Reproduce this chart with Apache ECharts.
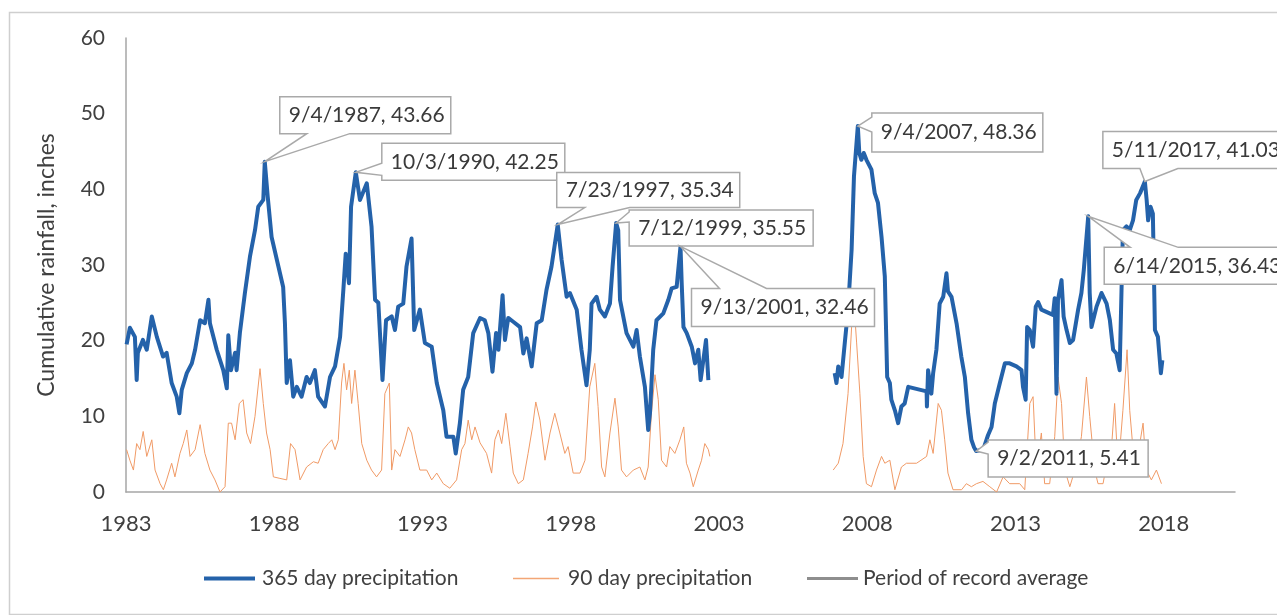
<!DOCTYPE html>
<html>
<head>
<meta charset="utf-8">
<script src="https://cdn.jsdelivr.net/npm/echarts@6/dist/echarts.min.js"></script>
<style>
html,body{margin:0;padding:0;background:#fff;}
#main{width:1277px;height:615px;}
</style>
</head>
<body>
<div id="main"></div>
<script>
// ---------- DATA ----------
const xTickLabels = ['1983','1988','1993','1998','2003','2008','2013','2018'];
const baseYear = 1983;

// 365-day cumulative precipitation (decimal year, inches); null = no record
const years365 = [1983.02,1983.13,1983.30,1983.36,1983.40,1983.57,1983.70,1983.87,1984.04,1984.25,1984.37,1984.54,1984.71,1984.80,1984.88,1985.05,1985.22,1985.33,1985.50,1985.66,1985.78,1985.83,1986.06,1986.28,1986.40,1986.45,1986.54,1986.68,1986.73,1986.84,1987.01,1987.18,1987.35,1987.46,1987.63,1987.68,1987.78,1987.91,1988.14,1988.30,1988.36,1988.42,1988.53,1988.64,1988.76,1988.92,1989.09,1989.20,1989.37,1989.48,1989.71,1989.88,1990.05,1990.22,1990.33,1990.41,1990.52,1990.59,1990.75,1990.89,1991.12,1991.28,1991.40,1991.51,1991.65,1991.77,1991.96,1992.07,1992.18,1992.35,1992.46,1992.63,1992.72,1992.91,1993.08,1993.31,1993.48,1993.70,1993.81,1994.04,1994.12,1994.26,1994.37,1994.54,1994.71,1994.94,1995.10,1995.22,1995.36,1995.48,1995.56,1995.70,1995.78,1995.89,1996.06,1996.29,1996.40,1996.51,1996.68,1996.85,1997.02,1997.18,1997.35,1997.56,1997.69,1997.86,1997.97,1998.20,1998.36,1998.53,1998.64,1998.70,1998.87,1998.98,1999.15,1999.32,1999.41,1999.53,1999.60,1999.66,1999.88,2000.11,2000.22,2000.33,2000.50,2000.61,2000.67,2000.78,2000.89,2001.12,2001.29,2001.40,2001.57,2001.70,2001.74,2001.80,2001.91,2002.08,2002.19,2002.30,2002.38,2002.47,2002.56,2002.64,
  2004.80,
  2006.90,2006.96,2007.02,2007.13,2007.24,2007.35,2007.47,2007.55,2007.68,2007.73,2007.80,2007.88,2007.97,2008.14,2008.25,2008.36,2008.48,2008.59,2008.67,2008.76,2008.81,2008.93,2009.04,2009.15,2009.26,2009.38,2010.00,2010.01,2010.05,2010.16,2010.22,2010.33,2010.44,2010.56,2010.67,2010.72,2010.84,2011.01,2011.17,2011.29,2011.40,2011.51,2011.60,2011.67,2011.91,2012.07,2012.19,2012.30,2012.47,2012.64,2012.80,2013.03,2013.20,2013.25,2013.34,2013.39,2013.48,2013.59,2013.68,2013.76,2013.87,2014.26,2014.32,2014.38,2014.43,2014.55,2014.62,2014.72,2014.83,2014.94,2015.11,2015.22,2015.30,2015.45,2015.50,2015.56,2015.73,2015.90,2016.07,2016.18,2016.29,2016.40,2016.51,2016.62,2016.74,2016.85,2016.96,2017.07,2017.20,2017.36,2017.42,2017.47,2017.55,2017.63,2017.70,2017.80,2017.90,2017.95];
const precip365 = [19.5,21.7,20.5,14.8,18.4,20.1,18.8,23.2,20.5,17.9,18.4,14.4,12.6,10.4,13.5,15.7,17.0,18.8,22.7,22.3,25.4,22.3,18.8,16.1,13.7,20.7,16.1,18.4,16.1,21.0,26.3,31.1,34.6,37.7,38.6,43.66,39.0,33.7,29.8,27.1,22.3,14.4,17.4,12.6,13.9,12.6,15.2,14.4,16.1,12.6,11.3,15.2,16.6,20.5,26.7,31.5,27.6,37.7,42.25,38.6,40.8,35.1,25.4,25.0,14.8,22.7,23.2,21.4,24.5,24.9,29.8,33.5,21.4,24.1,19.7,19.2,14.4,10.8,7.3,7.3,5.1,9.1,13.5,15.2,21.0,23.0,22.7,21.0,15.9,21.0,18.8,26.0,20.1,23.0,22.5,21.8,18.3,20.3,16.6,22.3,22.7,26.7,29.8,35.34,30.7,25.8,26.3,24.1,18.8,14.1,18.8,24.9,25.8,24.1,23.2,24.9,29.8,35.55,34.6,25.4,21.0,19.2,21.4,17.9,13.9,8.2,10.4,18.8,22.7,23.6,25.4,26.9,27.1,32.46,27.6,21.8,21.0,19.2,17.0,18.8,14.8,17.4,20.1,14.8,
  null,
  15.7,14.4,16.6,15.2,19.7,24.1,32.0,41.7,48.36,44.8,43.9,44.8,43.9,42.6,39.5,38.2,33.7,28.5,15.2,14.4,12.2,10.8,9.1,11.3,11.7,13.9,13.3,11.3,16.1,13.0,15.7,18.8,24.9,25.8,28.9,26.5,25.8,22.3,17.9,15.2,10.4,6.9,5.9,5.41,5.6,7.5,8.6,11.7,14.4,17.0,17.0,16.6,16.1,13.9,12.2,21.8,21.4,19.2,24.5,25.1,24.1,23.4,25.6,13.0,25.4,28.0,23.2,21.4,19.7,20.1,24.1,26.3,29.3,36.43,26.3,21.8,24.5,26.3,24.9,22.7,18.8,18.3,16.1,34.6,35.1,34.6,35.9,38.6,39.5,41.03,38.6,35.9,37.7,36.8,21.4,20.5,15.7,17.4];

// 90-day cumulative precipitation (decimal year, inches); null = no record
const years90 = [1983.02,1983.13,1983.25,1983.36,1983.47,1983.58,1983.70,1983.87,1983.98,1984.15,1984.26,1984.37,1984.54,1984.65,1984.82,1984.93,1985.05,1985.16,1985.33,1985.50,1985.66,1985.83,1986.00,1986.17,1986.34,1986.45,1986.56,1986.68,1986.82,1986.95,1987.07,1987.20,1987.35,1987.52,1987.63,1987.74,1987.86,1987.97,1988.19,1988.42,1988.55,1988.70,1988.87,1989.09,1989.32,1989.48,1989.65,1989.82,1989.94,1990.05,1990.16,1990.27,1990.35,1990.44,1990.53,1990.61,1990.72,1990.83,1990.95,1991.12,1991.28,1991.45,1991.62,1991.73,1991.88,1991.96,1992.07,1992.24,1992.41,1992.52,1992.63,1992.74,1992.91,1993.14,1993.31,1993.48,1993.70,1993.92,1994.15,1994.32,1994.43,1994.54,1994.66,1994.77,1994.94,1995.16,1995.33,1995.44,1995.56,1995.67,1995.81,1995.95,1996.06,1996.23,1996.40,1996.56,1996.71,1996.82,1996.96,1997.13,1997.30,1997.46,1997.63,1997.80,1997.91,1998.08,1998.31,1998.48,1998.64,1998.81,1998.92,1999.04,1999.15,1999.32,1999.49,1999.60,1999.71,1999.88,2000.11,2000.33,2000.50,2000.61,2000.72,2000.84,2000.95,2001.06,2001.23,2001.34,2001.51,2001.68,2001.81,2001.90,2002.02,2002.13,2002.30,2002.41,2002.52,2002.64,2002.69,
  2004.80,
  2006.85,2007.02,2007.18,2007.35,2007.47,2007.55,2007.64,2007.75,2007.86,2007.97,2008.14,2008.31,2008.48,2008.59,2008.76,2008.93,2009.15,2009.32,2009.66,2010.00,2010.11,2010.22,2010.39,2010.50,2010.61,2010.72,2010.89,2011.18,2011.34,2011.51,2011.68,2011.90,2012.13,2012.36,2012.58,2012.80,2013.14,2013.31,2013.48,2013.59,2013.70,2013.87,2013.98,2014.15,2014.32,2014.43,2014.55,2014.66,2014.83,2015.00,2015.22,2015.39,2015.50,2015.67,2015.78,2015.95,2016.12,2016.23,2016.34,2016.46,2016.62,2016.76,2016.85,2017.02,2017.19,2017.30,2017.41,2017.58,2017.75,2017.92];
const precip90 = [5.6,4.2,2.9,6.4,5.6,8.0,4.7,6.9,2.9,1.1,0.3,1.6,3.8,2.0,5.1,6.4,8.2,4.7,5.6,8.9,5.1,2.9,1.6,0.0,0.7,9.1,9.1,6.9,11.7,12.2,7.8,6.4,10.0,16.3,11.7,7.8,5.6,2.0,1.8,1.6,6.4,5.6,1.6,3.3,4.0,3.8,5.6,6.4,6.9,5.6,6.9,14.4,17.0,13.5,16.1,11.7,16.1,11.7,6.4,4.2,2.9,2.0,2.9,13.0,14.4,2.9,5.6,4.7,6.9,8.6,7.8,5.6,2.9,2.9,1.6,2.5,1.1,0.5,1.6,5.6,6.4,9.5,6.9,8.6,6.5,5.1,2.5,6.9,8.2,6.4,10.4,6.0,2.5,1.1,1.6,5.1,8.6,11.9,9.5,4.2,7.8,10.4,7.8,5.1,6.0,2.5,2.5,4.2,13.9,17.0,11.3,3.3,2.0,7.8,12.4,8.6,2.9,2.0,2.9,3.3,1.6,3.3,10.4,15.5,12.2,4.2,3.3,6.0,5.1,6.9,8.6,3.8,2.5,0.7,2.9,4.2,6.4,5.6,4.7,
  null,
  2.9,3.8,6.4,13.0,21.8,25.0,19.7,13.0,4.7,1.1,0.7,2.9,4.7,3.8,4.2,0.3,3.3,3.8,3.8,4.7,6.9,5.1,11.7,10.8,6.9,2.5,0.3,0.3,1.1,0.7,1.1,1.4,0.7,0.0,2.0,1.1,1.1,0.3,11.7,12.6,2.9,7.8,1.1,1.1,7.3,15.2,11.7,2.9,0.7,2.9,7.3,15.2,10.0,2.9,1.1,1.1,4.7,5.6,11.7,2.9,10.8,18.8,10.8,2.9,6.4,9.1,2.9,1.6,2.9,1.1];

// Annotated extremes of the 365-day series
const annDates  = ['9/4/1987','10/3/1990','7/23/1997','7/12/1999','9/13/2001','9/4/2007','9/2/2011','6/14/2015','5/11/2017'];
const annYears  = [1987.68,1990.75,1997.56,1999.53,2001.70,2007.68,2011.67,2015.45,2017.36];
const annValues = [43.66,42.25,35.34,35.55,32.46,48.36,5.41,36.43,41.03];

// Callout layout (pixel offsets of the box from its point; wedge side and base)
const annLayout = [
  {dx:15, dy:-65, w:171, h:37, side:'bottom', a:27, b:70},
  {dx:26, dy:-29, w:183, h:37, side:'left', a:20, b:32},
  {dx:-1, dy:-52, w:183, h:35, side:'bottom', a:28, b:73},
  {dx:13, dy:-13, w:184, h:36, side:'left', a:2, b:12},
  {dx:11, dy:42, w:183, h:38, side:'top', a:28, b:75},
  {dx:14, dy:-13, w:171, h:39, side:'left', a:4, b:19},
  {dx:12, dy:-11, w:160, h:37, side:'left', a:2, b:14},
  {dx:16, dy:31, w:200, h:37, side:'top', a:26, b:74},
  {dx:-42, dy:-50, w:200, h:37, side:'bottom', a:37, b:75}
];

// ---------- CHART ----------
const FONT = 'Lato';
const toPairs = (xs, ys) => xs.map((x, i) => [x - baseYear, ys[i] == null ? '-' : ys[i]]);
const annLabels = annDates.map((d, i) => d + ', ' + annValues[i].toFixed(2));

function renderCallout(params, api) {
  const i = params.dataIndex;
  const p = api.coord([api.value(0), api.value(1)]);
  const L = annLayout[i];
  const x0 = p[0] + L.dx, y0 = p[1] + L.dy, x1 = x0 + L.w, y1 = y0 + L.h;
  let pts;
  if (L.side === 'bottom') {
    pts = [[x0,y0],[x1,y0],[x1,y1],[x0+L.b,y1],[p[0],p[1]],[x0+L.a,y1],[x0,y1]];
  } else if (L.side === 'top') {
    pts = [[x0,y0],[x0+L.a,y0],[p[0],p[1]],[x0+L.b,y0],[x1,y0],[x1,y1],[x0,y1]];
  } else {
    pts = [[x0,y0],[x1,y0],[x1,y1],[x0,y1],[x0,y0+L.b],[p[0],p[1]],[x0,y0+L.a]];
  }
  return {
    type: 'group',
    children: [
      {type:'polygon', shape:{points:pts}, style:{fill:'#ffffff', stroke:'#a9a9a9', lineWidth:1.5}},
      {type:'text', style:{text:annLabels[i], x:x0+9, y:(y0+y1)/2, align:'left', verticalAlign:'middle',
        fill:'#3a3a3a', fontSize:21, fontFamily:FONT}}
    ]
  };
}

const chart = echarts.init(document.getElementById('main'));
chart.setOption({
  animation: false,
  backgroundColor: '#ffffff',
  textStyle: {fontFamily: FONT},
  graphic: [{
    type: 'rect', left: 7, top: 10, z: -10,
    shape: {width: 1300, height: 602},
    style: {fill: 'none', stroke: '#cfcfcf', lineWidth: 1.5}
  }],
  grid: {left: 126, right: 42, top: 38, bottom: 123, containLabel: false},
  xAxis: {
    type: 'value', min: 0, max: 37.4, interval: 5,
    axisLine: {show: true, lineStyle: {color: '#a6a6a6', width: 1.5}},
    axisTick: {show: false},
    splitLine: {show: false},
    axisLabel: {
      margin: 21, color: '#404040', fontSize: 22, fontFamily: FONT,
      formatter: v => (Math.abs(v % 5) < 1e-6 ? xTickLabels[Math.round(v / 5)] || '' : '')
    }
  },
  yAxis: {
    type: 'value', min: 0, max: 60, interval: 10,
    name: 'Cumulative rainfall, inches',
    nameLocation: 'middle', nameGap: 68, nameRotate: 90,
    nameTextStyle: {fontSize: 23, color: '#404040', fontFamily: FONT},
    axisLine: {show: true, lineStyle: {color: '#a6a6a6', width: 1.5}},
    axisTick: {show: false},
    splitLine: {show: false},
    axisLabel: {margin: 21, color: '#404040', fontSize: 21, fontFamily: FONT}
  },
  legend: [
    {data: [{name: '365 day precipitation', icon: 'rect'}], left: 204, top: 568, padding: 0, itemWidth: 51, itemHeight: 4, itemGap: 0,
     textStyle: {fontSize: 21, color: '#404040', fontFamily: FONT, padding: [0, 0, 0, 2]}},
    {data: [{name: '90 day precipitation', icon: 'rect'}], left: 513, top: 568, padding: 0, itemWidth: 46, itemHeight: 1.5, itemGap: 0,
     textStyle: {fontSize: 21, color: '#404040', fontFamily: FONT, padding: [0, 0, 0, 4]}},
    {data: [{name: 'Period of record average', icon: 'rect'}], left: 807, top: 568, padding: 0, itemWidth: 51, itemHeight: 3, itemGap: 0,
     textStyle: {fontSize: 21, color: '#404040', fontFamily: FONT, padding: [0, 0, 0, 0]}}
  ],
  series: [
    {
      name: '90 day precipitation', type: 'line', data: toPairs(years90, precip90),
      symbol: 'none', connectNulls: false, z: 2,
      itemStyle: {color: '#F3A676'},
      lineStyle: {color: '#F09A66', width: 1}
    },
    {
      name: '365 day precipitation', type: 'line', data: toPairs(years365, precip365),
      symbol: 'none', connectNulls: false, z: 3,
      itemStyle: {color: '#2462AA'},
      lineStyle: {color: '#2462AA', width: 4, join: 'round'}
    },
    {
      name: 'Period of record average', type: 'line', data: [],
      symbol: 'none', itemStyle: {color: '#8e8e8e'}, lineStyle: {color: '#8e8e8e', width: 3}
    },
    {
      type: 'custom', name: 'callouts', silent: true, z: 10,
      data: annYears.map((y, i) => [y - baseYear, annValues[i]]),
      renderItem: renderCallout
    }
  ]
});
</script>
</body>
</html>
